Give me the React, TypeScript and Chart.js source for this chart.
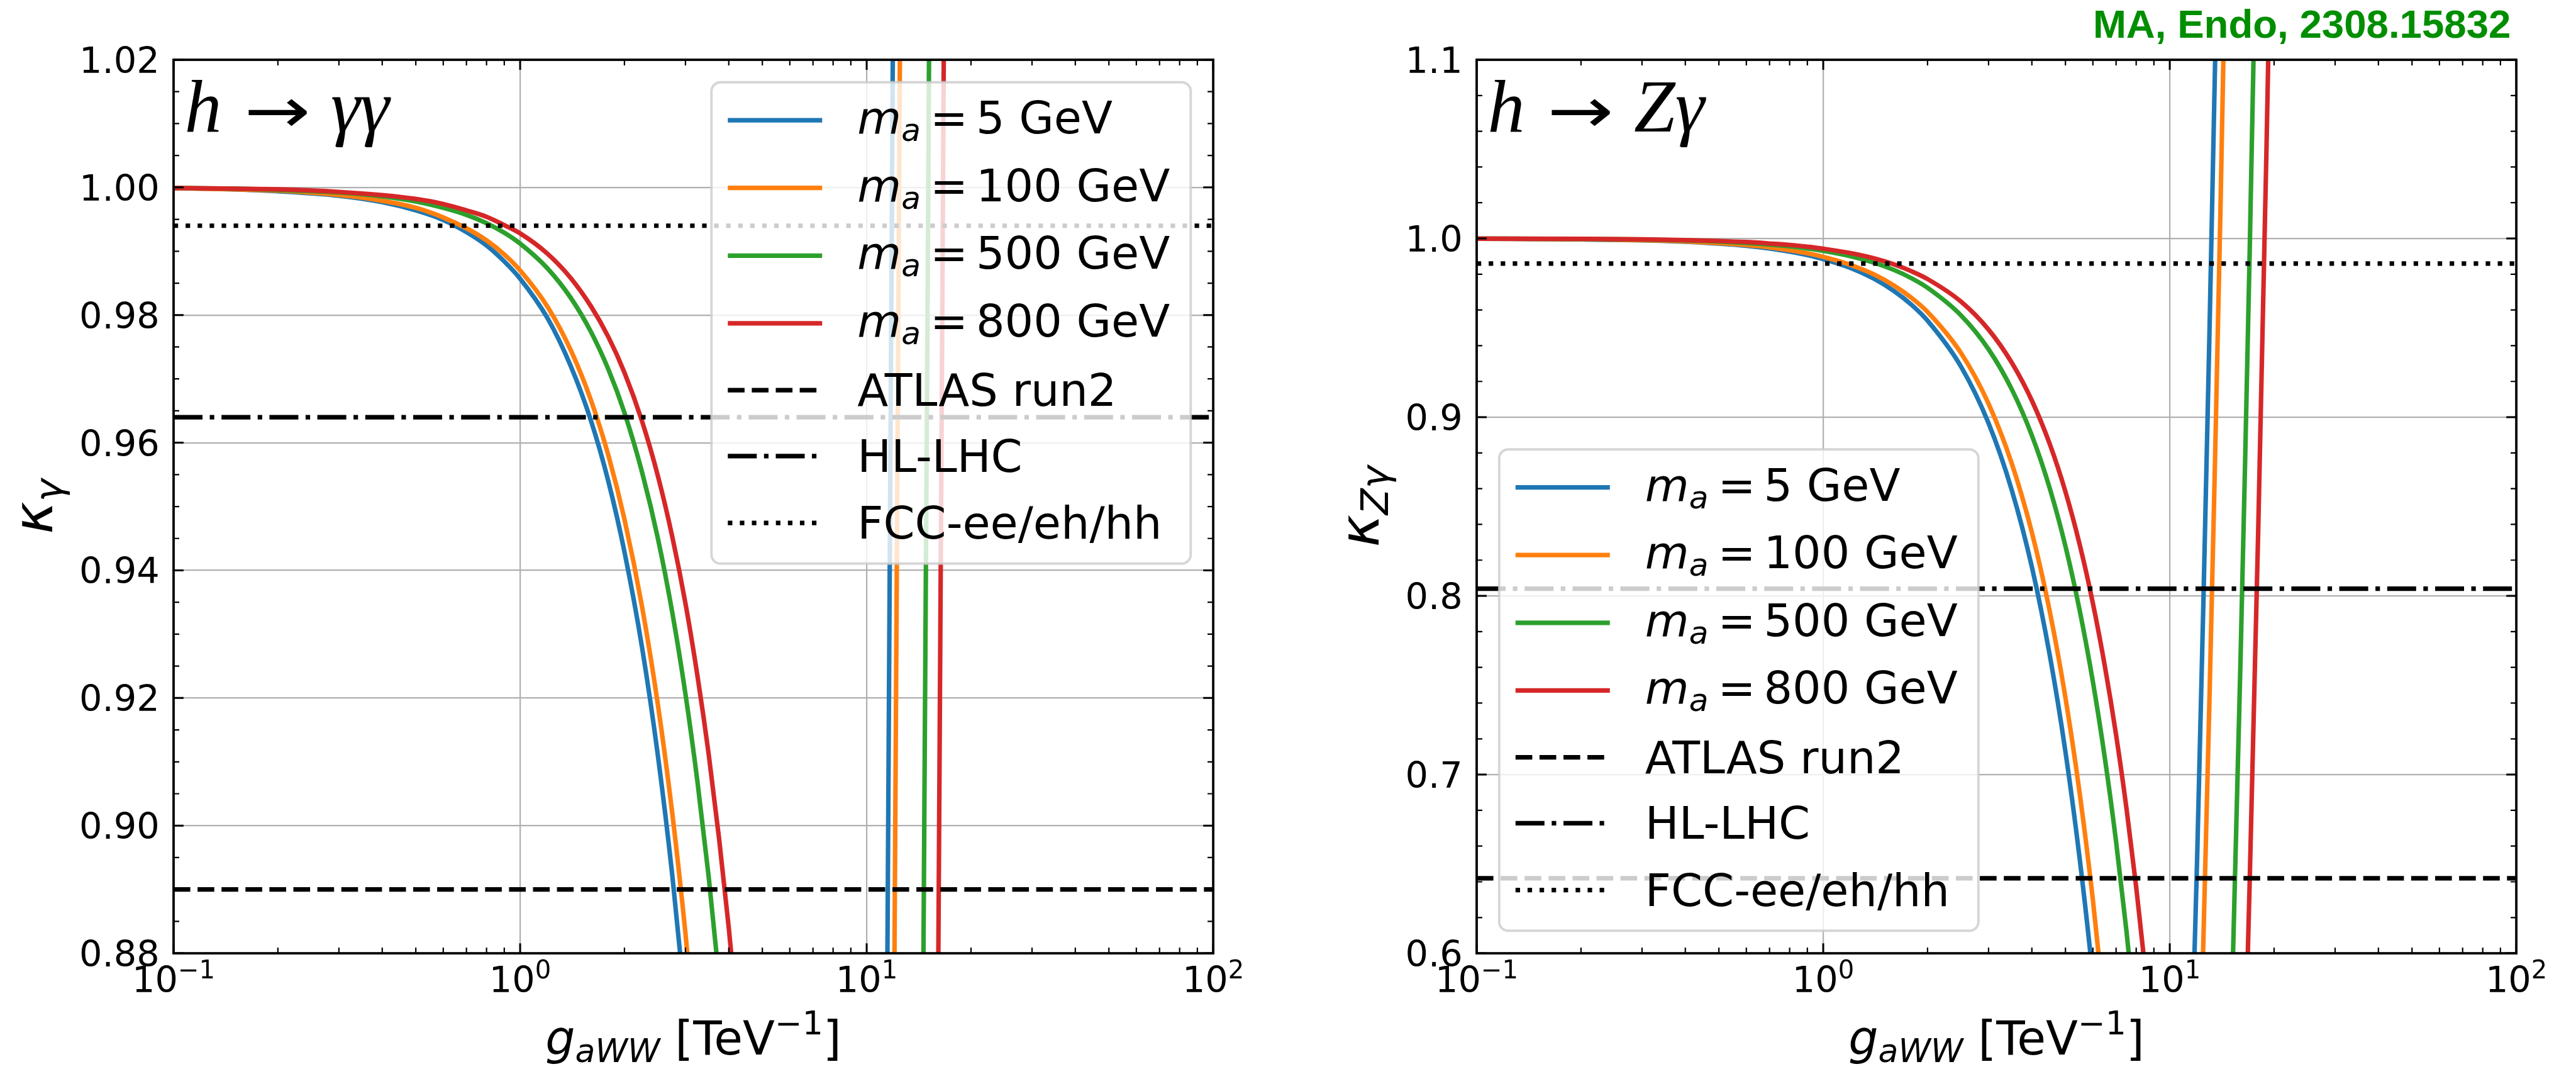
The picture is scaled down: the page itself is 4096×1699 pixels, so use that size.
import { useEffect, useRef } from 'react';
import { Chart, registerables } from 'chart.js';

Chart.register(...registerables);

// ---- h -> γγ : coupling modifier κ_γ versus g_aWW [TeV^-1] ----
const G_AWW_GAMMA = [
  0.1, 0.15, 0.2, 0.3, 0.4, 0.5, 0.6, 0.7, 0.8, 0.9, 1.0, 1.2, 1.4, 1.6, 1.8, 2.0, 2.25, 2.5, 2.75, 3.0,
  3.25, 3.5, 3.75, 4.0, 4.25, 4.5, 5, 6, 7, 8, 9, 10, 11, 11.5, 12, 12.5, 13, 14, 15, 15.5, 16, 16.5, 17, 18, 20,
];
const KAPPA_GAMMA_MA5 = [
  0.9999, 0.9997, 0.9994, 0.9987, 0.9977, 0.9964, 0.9949, 0.993, 0.9909, 0.9884, 0.9857, 0.9795, 0.972, 0.9635,
  0.9538, 0.9429, 0.9278, 0.9108, 0.8921, 0.8716, 0.8493, 0.8252, 0.7993, 0.7717, 0.7422, 0.711, 0.6433, 0.4863,
  0.3008, 0.0867, 0.1559, 0.427, 0.7267, 0.8872, 1.0549, 1.2297, 1.4116, 1.7969, 2.2108, 2.4284, 2.6531, 2.885,
  3.124, 3.6235, 4.708,
];
const KAPPA_GAMMA_MA100 = [
  0.9999, 0.9997, 0.9995, 0.9988, 0.9979, 0.9968, 0.9953, 0.9936, 0.9917, 0.9895, 0.987, 0.9813, 0.9745, 0.9667,
  0.9579, 0.948, 0.9342, 0.9188, 0.9018, 0.8831, 0.8628, 0.8409, 0.8173, 0.7922, 0.7654, 0.737, 0.6753, 0.5324,
  0.3635, 0.1686, 0.0522, 0.299, 0.5718, 0.7179, 0.8706, 1.0297, 1.1953, 1.546, 1.9228, 2.1209, 2.3254, 2.5365,
  2.7541, 3.2088, 4.196,
];
const KAPPA_GAMMA_MA500 = [
  0.9999, 0.9998, 0.9996, 0.9992, 0.9986, 0.9978, 0.9968, 0.9957, 0.9944, 0.9929, 0.9912, 0.9873, 0.9827, 0.9774,
  0.9714, 0.9647, 0.9553, 0.9449, 0.9333, 0.9206, 0.9068, 0.892, 0.876, 0.8589, 0.8407, 0.8214, 0.7795, 0.6825,
  0.5678, 0.4355, 0.2856, 0.118, 0.0672, 0.1664, 0.2701, 0.3781, 0.4906, 0.7287, 0.9845, 1.119, 1.2579, 1.4012,
  1.549, 1.8577, 2.528,
];
const KAPPA_GAMMA_MA800 = [
  0.9999, 0.9998, 0.9997, 0.9993, 0.9988, 0.9982, 0.9974, 0.9964, 0.9954, 0.9941, 0.9928, 0.9896, 0.9858, 0.9814,
  0.9765, 0.971, 0.9633, 0.9547, 0.9452, 0.9348, 0.9234, 0.9112, 0.898, 0.884, 0.869, 0.8532, 0.8188, 0.739,
  0.6448, 0.536, 0.4128, 0.275, 0.1228, 0.0412, 0.044, 0.1328, 0.2253, 0.421, 0.6313, 0.7418, 0.856, 0.9738,
  1.0953, 1.349, 1.9,
];

// ---- h -> Zγ : coupling modifier κ_Zγ versus g_aWW [TeV^-1] ----
const G_AWW_ZGAMMA = [
  0.1, 0.2, 0.3, 0.4, 0.5, 0.6, 0.7, 0.8, 0.9, 1.0, 1.2, 1.4, 1.6, 1.8, 2.0, 2.5, 3.0, 3.5, 4.0, 4.5, 5.0, 5.5,
  6.0, 6.5, 7.0, 7.5, 8.0, 8.5, 9.0, 10, 11, 12, 12.5, 13, 13.5, 14, 15, 16, 16.5, 17, 18, 19, 20, 22,
];
const KAPPA_ZGAMMA_MA5 = [
  0.9999, 0.9995, 0.999, 0.9982, 0.9971, 0.9959, 0.9944, 0.9926, 0.9907, 0.9885, 0.9835, 0.9775, 0.9706, 0.9628,
  0.954, 0.9282, 0.8966, 0.8592, 0.8162, 0.7673, 0.7128, 0.6524, 0.5864, 0.5145, 0.437, 0.3537, 0.2646, 0.1698,
  0.0693, 0.149, 0.3903, 0.6546, 0.7953, 0.9418, 1.0941, 1.252, 1.5853, 1.9414, 2.1282, 2.3206, 2.7228, 3.1479,
  3.596, 4.5612,
];
const KAPPA_ZGAMMA_MA100 = [
  0.9999, 0.9996, 0.9991, 0.9984, 0.9974, 0.9963, 0.995, 0.9934, 0.9917, 0.9897, 0.9852, 0.9799, 0.9737, 0.9667,
  0.9589, 0.9358, 0.9075, 0.8741, 0.8355, 0.7918, 0.743, 0.689, 0.6299, 0.5657, 0.4963, 0.4218, 0.3421, 0.2573,
  0.1673, 0.028, 0.2439, 0.4803, 0.6063, 0.7373, 0.8735, 1.0149, 1.313, 1.6317, 1.7987, 1.9709, 2.3307, 2.7111,
  3.112, 3.9755,
];
const KAPPA_ZGAMMA_MA500 = [
  0.9999, 0.9997, 0.9994, 0.9989, 0.9983, 0.9975, 0.9966, 0.9956, 0.9944, 0.9931, 0.9901, 0.9865, 0.9824, 0.9777,
  0.9724, 0.9569, 0.938, 0.9156, 0.8898, 0.8605, 0.8278, 0.7916, 0.752, 0.7089, 0.6624, 0.6124, 0.559, 0.5022,
  0.4419, 0.311, 0.1663, 0.0078, 0.0766, 0.1644, 0.2557, 0.3504, 0.5503, 0.7638, 0.8758, 0.9912, 1.2324, 1.4873,
  1.756, 2.3348,
];
const KAPPA_ZGAMMA_MA800 = [
  0.9999, 0.9998, 0.9995, 0.9991, 0.9986, 0.998, 0.9972, 0.9964, 0.9954, 0.9943, 0.9918, 0.9889, 0.9855, 0.9816,
  0.9773, 0.9646, 0.949, 0.9305, 0.9093, 0.8852, 0.8583, 0.8285, 0.7959, 0.7604, 0.7222, 0.6811, 0.6371, 0.5903,
  0.5407, 0.433, 0.3139, 0.1835, 0.1141, 0.0418, 0.0334, 0.1113, 0.2758, 0.4515, 0.5437, 0.6386, 0.8371, 1.0469,
  1.268, 1.7443,
];

// Axion masses, colours and experimental sensitivities
const MASS_LABELS = ['5', '100', '500', '800'];
const SERIES_COLORS = ['#1f77b4', '#ff7f0e', '#2ca02c', '#d62728'];
const BOUND_LABELS = ['ATLAS run2', 'HL-LHC', 'FCC-ee/eh/hh'];
const BOUNDS_GAMMA = [0.89, 0.964, 0.994];
const BOUNDS_ZGAMMA = [0.642, 0.804, 0.986];

// Axis ticks
const X_TICK_EXPONENTS = [-1, 0, 1, 2];
const Y_TICKS_GAMMA = ['0.88', '0.90', '0.92', '0.94', '0.96', '0.98', '1.00', '1.02'];
const Y_TICKS_ZGAMMA = ['0.6', '0.7', '0.8', '0.9', '1.0', '1.1'];
const NOTE = 'MA, Endo, 2308.15832';

// ---- styling ----
const SANS = '"DejaVu Sans", sans-serif';
const SERIF = '"Liberation Serif", "DejaVu Serif", serif';
const NOTE_FONT = '"Liberation Sans", Arial, sans-serif';
const TICK_SIZE = 57.3;
const LEGEND_SIZE = 71.7;
const XLABEL_SIZE = 74.5;
const YLABEL_SIZE = 86.9;
const TITLE_SIZE = 118;
const NOTE_SIZE = 63.6;
const GRID_COLOR = '#b0b0b0';
const GRID_WIDTH = 2.2;
const CURVE_WIDTH = 7.2;
const BOUND_WIDTH = 7.2;
const BOUND_DASHES = [
  [26.6, 11.5],
  [46, 11.5, 7.2, 11.5],
  [7.2, 11.9],
];
const LEGEND_W = 762;
const LEGEND_H = 765;
const LEGEND_GAP = 35.8;
const LEGEND_ROWS = [81.3, 188.8, 296.6, 404.1, 514.3, 619.1, 725.3];

const X_MIN = 10 ** X_TICK_EXPONENTS[0];
const X_MAX = 10 ** X_TICK_EXPONENTS[X_TICK_EXPONENTS.length - 1];

const CANVAS_W = 2048;
const CANVAS_H = 1699;

type Panel = {
  g: number[];
  kappas: number[][];
  bounds: number[];
  yTicks: string[];
  yMinorStep: number;
  titleTail: string;
  ySub: string;
  yLabelOffset: number;
  legendCorner: 'upper right' | 'lower left';
  padding: { left: number; right: number; top: number; bottom: number };
  note?: string;
};

const PANELS: Panel[] = [
  {
    g: G_AWW_GAMMA,
    kappas: [KAPPA_GAMMA_MA5, KAPPA_GAMMA_MA100, KAPPA_GAMMA_MA500, KAPPA_GAMMA_MA800],
    bounds: BOUNDS_GAMMA,
    yTicks: Y_TICKS_GAMMA,
    yMinorStep: 0.005,
    titleTail: 'γγ',
    ySub: 'γ',
    yLabelOffset: -192.6,
    legendCorner: 'upper right',
    padding: { left: 276.0, right: CANVAS_W - 1929.1, top: 95.0, bottom: CANVAS_H - 1515.1 },
  },
  {
    g: G_AWW_ZGAMMA,
    kappas: [KAPPA_ZGAMMA_MA5, KAPPA_ZGAMMA_MA100, KAPPA_ZGAMMA_MA500, KAPPA_ZGAMMA_MA800],
    bounds: BOUNDS_ZGAMMA,
    yTicks: Y_TICKS_ZGAMMA,
    yMinorStep: 0.02,
    titleTail: 'Zγ',
    ySub: 'Zγ',
    yLabelOffset: -155.7,
    legendCorner: 'lower left',
    padding: { left: 300.0, right: CANVAS_W - 1953.1, top: 95.0, bottom: CANVAS_H - 1515.1 },
    note: NOTE,
  },
];

type Run = { t: string; font: string; dy: number };

function runsWidth(ctx: CanvasRenderingContext2D, runs: Run[]) {
  let w = 0;
  for (const r of runs) {
    ctx.font = r.font;
    w += ctx.measureText(r.t).width;
  }
  return w;
}

function drawRuns(ctx: CanvasRenderingContext2D, runs: Run[], x: number, y: number) {
  ctx.textAlign = 'left';
  ctx.textBaseline = 'alphabetic';
  for (const r of runs) {
    ctx.font = r.font;
    ctx.fillText(r.t, x, y + r.dy);
    x += ctx.measureText(r.t).width;
  }
}

function drawMassLabel(ctx: CanvasRenderingContext2D, mass: string, x: number, y: number) {
  const F = LEGEND_SIZE;
  ctx.textAlign = 'left';
  ctx.textBaseline = 'alphabetic';
  ctx.font = `italic ${F}px ${SANS}`;
  ctx.fillText('m', x, y);
  x += ctx.measureText('m').width;
  ctx.font = `italic ${0.7 * F}px ${SANS}`;
  ctx.fillText('a', x, y + 0.166 * F);
  x += ctx.measureText('a').width + 0.21 * F;
  ctx.font = `${F}px ${SANS}`;
  ctx.fillText('=', x, y);
  x += ctx.measureText('=').width + 0.18 * F;
  ctx.fillText(`${mass} GeV`, x, y);
}

function drawLegend(ctx: CanvasRenderingContext2D, x: number, y: number) {
  ctx.save();
  ctx.beginPath();
  ctx.roundRect(x, y, LEGEND_W, LEGEND_H, 14.3);
  ctx.fillStyle = 'rgba(255,255,255,0.8)';
  ctx.fill();
  ctx.lineWidth = 3.9;
  ctx.strokeStyle = 'rgba(204,204,204,0.8)';
  ctx.stroke();

  const hx0 = x + 26;
  const hx1 = x + 176;
  const tx = x + 232;
  ctx.fillStyle = '#000';
  MASS_LABELS.forEach((m, i) => {
    const base = y + LEGEND_ROWS[i];
    ctx.setLineDash([]);
    ctx.lineCap = 'butt';
    ctx.strokeStyle = SERIES_COLORS[i];
    ctx.lineWidth = CURVE_WIDTH;
    ctx.beginPath();
    ctx.moveTo(hx0, base - 21);
    ctx.lineTo(hx1, base - 21);
    ctx.stroke();
    drawMassLabel(ctx, m, tx, base);
  });
  BOUND_LABELS.forEach((label, i) => {
    const base = y + LEGEND_ROWS[MASS_LABELS.length + i];
    ctx.setLineDash(BOUND_DASHES[i]);
    ctx.lineCap = 'butt';
    ctx.strokeStyle = '#000';
    ctx.lineWidth = BOUND_WIDTH;
    ctx.beginPath();
    ctx.moveTo(hx0, base - 25);
    ctx.lineTo(hx1, base - 25);
    ctx.stroke();
    ctx.setLineDash([]);
    ctx.font = `${LEGEND_SIZE}px ${SANS}`;
    ctx.textAlign = 'left';
    ctx.textBaseline = 'alphabetic';
    ctx.fillText(label, tx, base);
  });
  ctx.restore();
}

// Arrow glyph fitted into a given ink box (centre cx, cy; size w x h)
function drawArrow(ctx: CanvasRenderingContext2D, cx: number, cy: number, w: number, h: number) {
  ctx.save();
  ctx.font = `${TITLE_SIZE}px ${SANS}`;
  ctx.textAlign = 'left';
  ctx.textBaseline = 'alphabetic';
  const m = ctx.measureText('→');
  const inkW = m.actualBoundingBoxLeft + m.actualBoundingBoxRight;
  const inkH = m.actualBoundingBoxAscent + m.actualBoundingBoxDescent;
  ctx.translate(cx, cy);
  ctx.scale(w / inkW, h / inkH);
  const ox = (m.actualBoundingBoxRight - m.actualBoundingBoxLeft) / 2;
  const oy = (m.actualBoundingBoxDescent - m.actualBoundingBoxAscent) / 2;
  ctx.fillText('→', -ox, -oy);
  ctx.restore();
}

function drawPanel(chart: Chart, p: Panel) {
  const ctx = chart.ctx;
  const { left: L, right: R, top: T, bottom: B } = chart.chartArea;
  const xs = chart.scales.x;
  const ys = chart.scales.y;
  ctx.save();
  ctx.fillStyle = '#000';

  // Panel title: h → γγ / h → Zγ
  const tb = T + 113.8;
  ctx.textAlign = 'left';
  ctx.textBaseline = 'alphabetic';
  ctx.font = `italic ${TITLE_SIZE}px ${SERIF}`;
  ctx.fillText('h', L + 17.5, tb);
  drawArrow(ctx, L + 165.3, tb - 29.8, 94, 44);
  ctx.font = `italic ${TITLE_SIZE}px ${SERIF}`;
  ctx.fillText(p.titleTail, L + 250, tb);

  // Legend
  if (p.legendCorner === 'upper right') {
    drawLegend(ctx, R - LEGEND_GAP - LEGEND_W, T + LEGEND_GAP);
  } else {
    drawLegend(ctx, L + LEGEND_GAP, B - LEGEND_GAP - LEGEND_H);
  }

  // Inward ticks on all four sides
  ctx.strokeStyle = '#000';
  ctx.setLineDash([]);
  ctx.lineCap = 'butt';
  const MAJ = 15.9;
  const MIN = 9;
  const tickX = (v: number, len: number, w: number) => {
    const px = xs.getPixelForValue(v);
    ctx.lineWidth = w;
    ctx.beginPath();
    ctx.moveTo(px, B);
    ctx.lineTo(px, B - len);
    ctx.moveTo(px, T);
    ctx.lineTo(px, T + len);
    ctx.stroke();
  };
  const tickY = (v: number, len: number, w: number) => {
    const py = ys.getPixelForValue(v);
    ctx.lineWidth = w;
    ctx.beginPath();
    ctx.moveTo(L, py);
    ctx.lineTo(L + len, py);
    ctx.moveTo(R, py);
    ctx.lineTo(R - len, py);
    ctx.stroke();
  };
  for (let i = 0; i < X_TICK_EXPONENTS.length; i++) {
    const e = X_TICK_EXPONENTS[i];
    tickX(10 ** e, MAJ, 3);
    if (i < X_TICK_EXPONENTS.length - 1) {
      for (let k = 2; k <= 9; k++) tickX(k * 10 ** e, MIN, 2.2);
    }
  }
  const yVals = p.yTicks.map(Number);
  const yMin = yVals[0];
  const yMax = yVals[yVals.length - 1];
  const nMinor = Math.round((yMax - yMin) / p.yMinorStep);
  for (let k = 0; k <= nMinor; k++) {
    const v = yMin + k * p.yMinorStep;
    const isMajor = yVals.some((m) => Math.abs(m - v) < p.yMinorStep / 10);
    if (!isMajor) tickY(v, MIN, 2.2);
  }
  yVals.forEach((v) => tickY(v, MAJ, 3));

  // Axes frame
  ctx.lineWidth = 3.8;
  ctx.strokeRect(L, T, R - L, B - T);

  // Y tick labels
  ctx.font = `${TICK_SIZE}px ${SANS}`;
  ctx.textAlign = 'right';
  ctx.textBaseline = 'alphabetic';
  p.yTicks.forEach((label) => {
    const py = ys.getPixelForValue(Number(label));
    ctx.fillText(label, L - 22.4, py + 0.3645 * TICK_SIZE);
  });

  // X tick labels 10^n
  const xb = B + 61.9;
  X_TICK_EXPONENTS.forEach((e) => {
    const px = xs.getPixelForValue(10 ** e);
    const runs: Run[] = [
      { t: '10', font: `${TICK_SIZE}px ${SANS}`, dy: 0 },
      { t: e < 0 ? `−${-e}` : `${e}`, font: `${0.7 * TICK_SIZE}px ${SANS}`, dy: -22.4 },
    ];
    const w = runsWidth(ctx, runs);
    drawRuns(ctx, runs, px - w / 2, xb);
  });

  // X axis label
  const XF = XLABEL_SIZE;
  const xRuns: Run[] = [
    { t: 'g', font: `italic ${XF}px ${SANS}`, dy: 0 },
    { t: 'aWW', font: `italic ${0.7 * XF}px ${SANS}`, dy: 0.15 * XF },
    { t: ' [TeV', font: `${XF}px ${SANS}`, dy: 0 },
    { t: '−1', font: `${0.7 * XF}px ${SANS}`, dy: -0.43 * XF },
    { t: ']', font: `${XF}px ${SANS}`, dy: 0 },
  ];
  const xw = runsWidth(ctx, xRuns);
  drawRuns(ctx, xRuns, (L + R) / 2 - xw / 2, B + 161.3);

  // Y axis label
  const YF = YLABEL_SIZE;
  const yRuns: Run[] = [
    { t: 'κ', font: `italic ${YF}px ${SANS}`, dy: 0 },
    { t: p.ySub, font: `italic ${0.7 * YF}px ${SANS}`, dy: 0.165 * YF },
  ];
  const yw = runsWidth(ctx, yRuns);
  ctx.save();
  ctx.translate(L + p.yLabelOffset, (T + B) / 2);
  ctx.rotate(-Math.PI / 2);
  drawRuns(ctx, yRuns, -yw / 2, 0);
  ctx.restore();

  // Reference note
  if (p.note) {
    ctx.font = `bold ${NOTE_SIZE}px ${NOTE_FONT}`;
    ctx.fillStyle = '#008e00';
    ctx.textAlign = 'right';
    ctx.textBaseline = 'alphabetic';
    ctx.fillText(p.note, 1944.4, 59.8);
  }
  ctx.restore();
}

function makeChart(canvas: HTMLCanvasElement, p: Panel) {
  const curves = p.kappas.map((ys, i) => ({
    label: `m_a = ${MASS_LABELS[i]} GeV`,
    data: p.g.map((x, j) => ({ x, y: ys[j] })),
    borderColor: SERIES_COLORS[i],
    borderWidth: CURVE_WIDTH,
    pointRadius: 0,
    pointHoverRadius: 0,
    fill: false,
    cubicInterpolationMode: 'monotone' as const,
    clip: 0,
    order: 7 - i,
  }));
  const bounds = p.bounds.map((v, i) => ({
    label: BOUND_LABELS[i],
    data: [
      { x: X_MIN, y: v },
      { x: X_MAX, y: v },
    ],
    borderColor: '#000000',
    borderWidth: BOUND_WIDTH,
    borderDash: BOUND_DASHES[i],
    borderCapStyle: 'butt' as const,
    pointRadius: 0,
    pointHoverRadius: 0,
    fill: false,
    tension: 0,
    clip: 0,
    order: 3 - i,
  }));
  const yVals = p.yTicks.map(Number);

  return new Chart(canvas, {
    type: 'line',
    data: { datasets: [...curves, ...bounds] },
    options: {
      animation: false,
      responsive: false,
      maintainAspectRatio: false,
      devicePixelRatio: 1,
      events: [],
      layout: { padding: p.padding },
      plugins: {
        legend: { display: false },
        tooltip: { enabled: false },
        title: { display: false },
      },
      scales: {
        x: {
          type: 'logarithmic',
          min: X_MIN,
          max: X_MAX,
          ticks: { display: false },
          grid: { color: GRID_COLOR, lineWidth: GRID_WIDTH, drawTicks: false },
          border: { display: false },
          afterBuildTicks: (s: any) => {
            s.ticks = X_TICK_EXPONENTS.map((e) => ({ value: 10 ** e }));
          },
          afterFit: (s: any) => {
            s.height = 0;
          },
        },
        y: {
          type: 'linear',
          min: yVals[0],
          max: yVals[yVals.length - 1],
          ticks: { display: false },
          grid: { color: GRID_COLOR, lineWidth: GRID_WIDTH, drawTicks: false },
          border: { display: false },
          afterBuildTicks: (s: any) => {
            s.ticks = yVals.map((v) => ({ value: v }));
          },
          afterFit: (s: any) => {
            s.width = 0;
          },
        },
      },
    },
    plugins: [
      {
        id: 'panelDecorations',
        afterDraw: (chart: Chart) => drawPanel(chart, p),
      },
    ],
  } as any);
}

export default function App() {
  const leftRef = useRef<HTMLCanvasElement>(null);
  const rightRef = useRef<HTMLCanvasElement>(null);

  useEffect(() => {
    const charts = [makeChart(leftRef.current!, PANELS[0]), makeChart(rightRef.current!, PANELS[1])];
    return () => charts.forEach((c) => c.destroy());
  }, []);

  const canvasStyle = (left: number): React.CSSProperties => ({
    position: 'absolute',
    left,
    top: 0,
    width: CANVAS_W,
    height: CANVAS_H,
  });

  return (
    <div style={{ position: 'fixed', left: 0, top: 0, width: 2 * CANVAS_W, height: CANVAS_H, background: '#ffffff' }}>
      <canvas ref={leftRef} width={CANVAS_W} height={CANVAS_H} style={canvasStyle(0)} />
      <canvas ref={rightRef} width={CANVAS_W} height={CANVAS_H} style={canvasStyle(CANVAS_W)} />
    </div>
  );
}
